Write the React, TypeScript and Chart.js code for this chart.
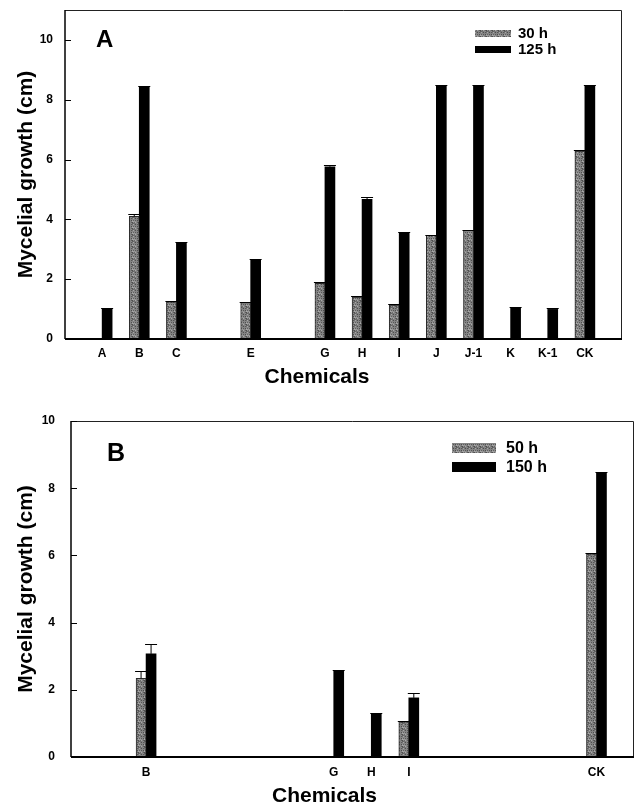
import React, { useEffect, useRef } from "react";
import { Chart, registerables } from "chart.js";

Chart.register(...registerables);

const FONT = "'Liberation Sans', Arial, Helvetica, sans-serif";

// ---------- Panel A ----------
const slotsA = ["", "A", "B", "C", "", "E", "", "G", "H", "I", "J", "J-1", "K", "K-1", "CK", ""];
const growthA30h = [null, 0, 4.1, 1.24, null, 1.22, null, 1.86, 1.4, 1.13, 3.47, 3.63, 0, 0, 6.28, null];
const errorA30h = [0, 0, 0.08, 0.03, 0, 0.03, 0, 0.03, 0.03, 0.03, 0.02, 0.03, 0, 0, 0.03, 0];
const growthA125h = [null, 1.01, 8.44, 3.22, null, 2.64, null, 5.76, 4.67, 3.56, 8.47, 8.47, 1.04, 0.99, 8.48, null];
const errorA125h = [0, 0.03, 0.02, 0.03, 0, 0.03, 0, 0.05, 0.07, 0.02, 0.02, 0.02, 0.03, 0.03, 0.02, 0];
const yTicksA = [0, 2, 4, 6, 8, 10];

// ---------- Panel B ----------
const slotsB = ["", "", "B", "", "", "", "", "G", "H", "I", "", "", "", "", "CK", ""];
const growthB50h = [null, null, 2.34, null, null, null, null, 0, 0, 1.05, null, null, null, null, 6.05, null];
const errorB50h = [0, 0, 0.22, 0, 0, 0, 0, 0, 0, 0.02, 0, 0, 0, 0, 0.03, 0];
const growthB150h = [null, null, 3.07, null, null, null, null, 2.55, 1.29, 1.76, null, null, null, null, 8.47, null];
const errorB150h = [0, 0, 0.3, 0, 0, 0, 0, 0.03, 0.03, 0.15, 0, 0, 0, 0, 0.02, 0];
const yTicksB = [0, 2, 4, 6, 8, 10];

function makeStipple(ctx: CanvasRenderingContext2D): CanvasPattern | string {
  const n = 6;
  const c = document.createElement("canvas");
  c.width = n;
  c.height = n;
  const g = c.getContext("2d");
  if (!g) return "#808080";
  for (let y = 0; y < n; y++) {
    for (let x = 0; x < n; x++) {
      const v = (x * 7 + y * 13 + x * y * 5) % 11;
      const s = 78 + v * 9;
      g.fillStyle = `rgb(${s},${s},${s})`;
      g.fillRect(x, y, 1, 1);
    }
  }
  return ctx.createPattern(c, "repeat") || "#808080";
}

const decorPlugin = {
  id: "panelDecor",
  afterDatasetsDraw(chart: any) {
    const { ctx } = chart;
    const ys = chart.scales.y;
    ctx.save();
    ctx.strokeStyle = "#000";
    ctx.lineWidth = 1;
    chart.data.datasets.forEach((ds: any, di: number) => {
      const meta = chart.getDatasetMeta(di);
      const errs = ds.errors || [];
      meta.data.forEach((el: any, j: number) => {
        const v = ds.data[j];
        const e = errs[j];
        if (v == null || !v || !e) return;
        const p = el.getProps(["x", "width"], true);
        const yTop = ys.getPixelForValue(v);
        const yErr = Math.round(ys.getPixelForValue(v + e)) + 0.5;
        const half = p.width / 2 + 1;
        ctx.beginPath();
        ctx.moveTo(p.x, yTop);
        ctx.lineTo(p.x, yErr);
        ctx.moveTo(p.x - half, yErr);
        ctx.lineTo(p.x + half, yErr);
        ctx.stroke();
      });
    });
    ctx.restore();
  },
  afterDraw(chart: any, _args: any, opts: any) {
    const { ctx, chartArea: a } = chart;
    ctx.save();
    // frame
    ctx.strokeStyle = "#222";
    ctx.lineWidth = 1;
    ctx.beginPath();
    ctx.moveTo(a.left, a.top + 0.5);
    ctx.lineTo(a.right - 0.5, a.top + 0.5);
    ctx.lineTo(a.right - 0.5, a.bottom);
    ctx.stroke();
    ctx.strokeStyle = "#000";
    ctx.lineWidth = 1.5;
    ctx.beginPath();
    ctx.moveTo(a.left, a.top);
    ctx.lineTo(a.left, a.bottom);
    ctx.stroke();
    ctx.lineWidth = 2;
    ctx.beginPath();
    ctx.moveTo(a.left, a.bottom);
    ctx.lineTo(a.right, a.bottom);
    ctx.stroke();
    // inner y ticks
    const ys = chart.scales.y;
    ctx.lineWidth = 1;
    ys.ticks.forEach((t: any) => {
      const py = Math.round(ys.getPixelForValue(t.value)) + 0.5;
      ctx.beginPath();
      ctx.moveTo(a.left, py);
      ctx.lineTo(a.left + opts.tickLength, py);
      ctx.stroke();
    });
    // panel letter
    ctx.fillStyle = "#000";
    ctx.font = `bold ${opts.letterSize}px ${FONT}`;
    ctx.textAlign = "left";
    ctx.textBaseline = "alphabetic";
    ctx.fillText(opts.letter, a.left + opts.letterDx, a.top + opts.letterDy);
    // legend
    const L = opts.legend;
    ctx.font = `bold ${L.fontSize}px ${FONT}`;
    ctx.textBaseline = "middle";
    chart.data.datasets.forEach((ds: any, i: number) => {
      const sx = a.right - L.dxFromRight;
      const sy = a.top + L.top + i * L.rowGap;
      ctx.fillStyle = ds.backgroundColor;
      ctx.fillRect(sx, sy, L.boxWidth, L.boxHeight);
      ctx.fillStyle = "#000";
      ctx.fillText(ds.label, sx + L.boxWidth + L.textGap, sy + L.boxHeight / 2 + 0.5);
    });
    ctx.restore();
  },
};

type PanelCfg = {
  labels: string[];
  series: { label: string; data: (number | null)[]; errors: number[]; stipple: boolean }[];
  yMax: number;
  yTicks: number[];
  width: number;
  height: number;
  padding: { left: number; right: number; top: number; bottom: number };
  yWidth: number;
  yLabelPad: number;
  yTitlePad: number;
  xLabelPad: number;
  xHeight: number;
  titlePadTop: number;
  decor: any;
};

function zeroPad(s: any) {
  s.paddingTop = 0;
  s.paddingBottom = 0;
  s.paddingLeft = 0;
  s.paddingRight = 0;
}

function Panel({ cfg }: { cfg: PanelCfg }) {
  const ref = useRef<HTMLCanvasElement | null>(null);
  useEffect(() => {
    const canvas = ref.current;
    if (!canvas) return;
    const ctx = canvas.getContext("2d");
    if (!ctx) return;
    const stipple = makeStipple(ctx);
    const chart = new Chart(ctx, {
      type: "bar",
      data: {
        labels: cfg.labels,
        datasets: cfg.series.map((s) => ({
          label: s.label,
          data: s.data,
          errors: s.errors,
          backgroundColor: s.stipple ? stipple : "#000",
          borderColor: s.stipple ? "#2a2a2a" : "#000",
          borderWidth: s.stipple ? 1 : 0,
          barThickness: 10,
        })) as any,
      },
      options: {
        animation: false,
        responsive: false,
        maintainAspectRatio: false,
        layout: { padding: cfg.padding },
        scales: {
          x: {
            type: "category",
            offset: false,
            grid: { display: false, drawTicks: false },
            border: { display: false },
            ticks: {
              autoSkip: false,
              maxRotation: 0,
              minRotation: 0,
              padding: cfg.xLabelPad,
              color: "#000",
              font: { family: FONT, size: 12, weight: "bold" },
            },
            afterFit: (s: any) => {
              s.height = cfg.xHeight;
              zeroPad(s);
            },
          },
          y: {
            type: "linear",
            min: 0,
            max: cfg.yMax,
            grid: { display: false, drawTicks: false },
            border: { display: false },
            afterBuildTicks: (s: any) => {
              s.ticks = cfg.yTicks.map((v) => ({ value: v }));
            },
            ticks: {
              padding: cfg.yLabelPad,
              color: "#000",
              font: { family: FONT, size: 12, weight: "bold" },
            },
            title: {
              display: true,
              text: "Mycelial growth (cm)",
              color: "#000",
              font: { family: FONT, size: 21, weight: "bold", lineHeight: 1 },
              padding: { top: cfg.yTitlePad, bottom: 0 },
            },
            afterFit: (s: any) => {
              s.width = cfg.yWidth;
              zeroPad(s);
            },
          },
        },
        plugins: {
          legend: { display: false },
          tooltip: { enabled: false },
          title: {
            display: true,
            position: "bottom",
            text: "Chemicals",
            color: "#000",
            font: { family: FONT, size: 21, weight: "bold", lineHeight: 1 },
            padding: { top: cfg.titlePadTop, bottom: 0 },
          },
          panelDecor: cfg.decor,
        } as any,
      },
      plugins: [decorPlugin as any],
    });
    return () => chart.destroy();
  }, [cfg]);
  return (
    <canvas
      ref={ref}
      width={cfg.width}
      height={cfg.height}
      style={{ display: "block", width: cfg.width, height: cfg.height }}
    />
  );
}

const panelA: PanelCfg = {
  labels: slotsA,
  series: [
    { label: "30 h", data: growthA30h, errors: errorA30h, stipple: true },
    { label: "125 h", data: growthA125h, errors: errorA125h, stipple: false },
  ],
  yMax: 11,
  yTicks: yTicksA,
  width: 637,
  height: 398,
  padding: { left: 12, right: 15, top: 10, bottom: 10.5 },
  yWidth: 53,
  yLabelPad: 12,
  yTitlePad: 3.5,
  xLabelPad: 7,
  xHeight: 23,
  titlePadTop: 4.5,
  decor: {
    tickLength: 6,
    letter: "A",
    letterSize: 24,
    letterDx: 31,
    letterDy: 37,
    legend: { dxFromRight: 147, top: 20, boxWidth: 36, boxHeight: 7, rowGap: 16, textGap: 7, fontSize: 15 },
  },
};

const panelB: PanelCfg = {
  labels: slotsB,
  series: [
    { label: "50 h", data: growthB50h, errors: errorB50h, stipple: true },
    { label: "150 h", data: growthB150h, errors: errorB150h, stipple: false },
  ],
  yMax: 10,
  yTicks: yTicksB,
  width: 637,
  height: 410,
  padding: { left: 15, right: 3, top: 23, bottom: 1.5 },
  yWidth: 56,
  yLabelPad: 16,
  yTitlePad: 0.5,
  xLabelPad: 8,
  xHeight: 24,
  titlePadTop: 4.5,
  decor: {
    tickLength: 6,
    letter: "B",
    letterSize: 25,
    letterDx: 36,
    letterDy: 40,
    legend: { dxFromRight: 182, top: 22, boxWidth: 44, boxHeight: 10, rowGap: 19, textGap: 10, fontSize: 16 },
  },
};

export default function App() {
  return (
    <div
      style={{
        position: "absolute",
        left: 0,
        top: 0,
        width: 637,
        height: 806,
        overflow: "hidden",
        background: "#fff",
      }}
    >
      <div style={{ position: "absolute", left: 0, top: 0 }}>
        <Panel cfg={panelA} />
      </div>
      <div style={{ position: "absolute", left: 0, top: 398 }}>
        <Panel cfg={panelB} />
      </div>
    </div>
  );
}
